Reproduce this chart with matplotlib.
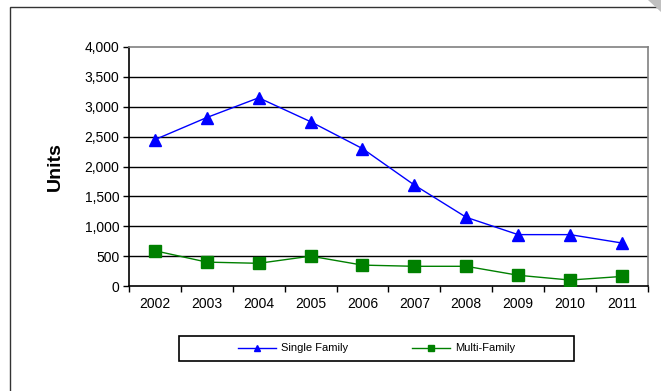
import matplotlib
matplotlib.use("Agg")
import matplotlib.pyplot as plt
from matplotlib.patches import Rectangle, Polygon

plt.rcParams["font.family"] = ["Liberation Sans", "DejaVu Sans"]

# data
years = ["2002", "2003", "2004", "2005", "2006", "2007", "2008", "2009", "2010", "2011"]
single_family = [2450, 2820, 3150, 2750, 2300, 1690, 1150, 860, 860, 720]
multi_family = [590, 400, 380, 500, 350, 330, 330, 180, 100, 160]
y_ticks = [0, 500, 1000, 1500, 2000, 2500, 3000, 3500, 4000]

fig = plt.figure(figsize=(6.61, 3.91), dpi=100)
ax = fig.add_axes([0.1952, 0.2685, 0.7848, 0.6113])

x = list(range(len(years)))
ax.plot(x, single_family, color="#0000ff", linewidth=1.0, marker="^",
        markersize=9, label="Single Family", zorder=3)
ax.plot(x, multi_family, color="#008000", linewidth=1.0, marker="s",
        markersize=8, label="Multi-Family", zorder=3)

ax.set_xlim(-0.5, len(years) - 0.5)
ax.set_ylim(0, 4000)
ax.set_yticks(y_ticks)
ax.set_yticklabels([f"{v:,}" for v in y_ticks])
ax.set_xticks(x)
ax.set_xticklabels(years)
ax.set_xticks([i - 0.5 for i in range(len(years) + 1)], minor=True)
ax.tick_params(axis="x", which="major", length=0, pad=8, labelsize=10)
ax.tick_params(axis="x", which="minor", length=4, direction="out", width=1)
ax.tick_params(axis="y", length=4, direction="out", width=1, labelsize=10, pad=3)

for v in y_ticks[1:-1]:
    ax.axhline(v, color="black", linewidth=1.0, zorder=1)

ax.spines["left"].set_linewidth(1.2)
ax.spines["bottom"].set_linewidth(1.2)
ax.spines["top"].set_color("#808080")
ax.spines["right"].set_color("#808080")
ax.spines["top"].set_linewidth(1.2)
ax.spines["right"].set_linewidth(1.2)

ax.set_ylabel("Units", fontsize=14, fontweight="bold", labelpad=15)

leg = fig.legend(loc="center", bbox_to_anchor=(0.5696, 0.1087), ncol=2,
                 fontsize=8, frameon=False, markerscale=0.5,
                 handlelength=3.4, handletextpad=0.45, columnspacing=5.8)

# legend box
fig.patches.append(Rectangle((179 / 661, 1 - 361.3 / 391), 395 / 661, 25.6 / 391,
                             transform=fig.transFigure, fill=False,
                             edgecolor="black", linewidth=1.2))

# outer frame and page corner
fig.patches.append(Rectangle((10 / 661, -0.1), 1.0, 1 - 7 / 391 + 0.1,
                             transform=fig.transFigure, fill=False,
                             edgecolor="#333333", linewidth=1.0))
fig.patches.append(Polygon([(648 / 661, 1.0), (1.0, 1.0), (1.0, 1 - 12 / 391)],
                           closed=True, transform=fig.transFigure,
                           facecolor="#c0c0c0", edgecolor="none"))

fig.savefig("out.png", dpi=100)
